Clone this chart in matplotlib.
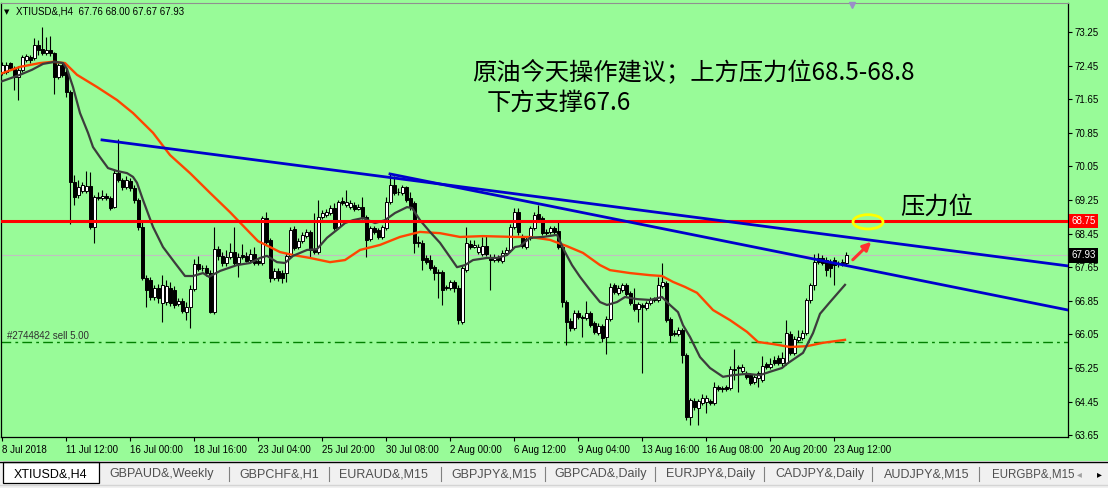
import matplotlib
matplotlib.use('Agg')
import matplotlib.pyplot as plt
from matplotlib.patches import Ellipse, Rectangle
import numpy as np

plt.rcParams['font.family'] = ['Liberation Sans', 'DejaVu Sans']
plt.rcParams['lines.scale_dashes'] = False

# ---- XTIUSD H4 candles ----
opens = [72.27, 72.30, 72.51, 72.39, 72.18, 72.35, 72.58, 72.65, 72.63, 72.94,
         72.85, 72.75, 72.82, 72.75, 72.18, 72.46, 72.30, 71.82, 69.68, 69.37,
         69.46, 69.46, 69.58, 68.61, 69.32, 69.30, 69.35, 69.30, 69.08, 69.89,
         69.73, 69.56, 69.70, 69.54, 69.25, 68.61, 67.39, 67.35, 66.94, 67.15,
         66.80, 66.82, 67.15, 67.11, 66.77, 66.85, 66.58, 66.70, 67.13, 67.73,
         67.63, 67.63, 67.51, 66.58, 68.08, 67.92, 67.75, 67.89, 68.01, 67.75,
         67.94, 67.92, 67.82, 67.96, 67.80, 67.75, 68.82, 68.30, 67.39, 67.56,
         67.51, 67.51, 67.92, 68.56, 68.13, 68.27, 68.39, 68.49, 68.06, 68.01,
         68.85, 68.89, 68.94, 69.06, 68.61, 69.23, 69.13, 69.08, 69.13, 69.04,
         69.08, 68.85, 68.32, 68.58, 68.54, 68.37, 68.58, 69.20, 69.61, 69.44,
         69.42, 69.56, 69.30, 69.18, 68.25, 68.23, 67.87, 67.82, 67.65, 67.54,
         67.54, 67.18, 67.16, 67.30, 67.16, 66.35, 67.58, 68.20, 68.13, 68.01,
         67.96, 68.15, 67.89, 67.82, 67.89, 67.80, 67.99, 68.06, 68.61, 68.96,
         68.39, 68.13, 68.35, 68.58, 68.92, 68.82, 68.49, 68.49, 68.58, 68.51,
         68.13, 66.82, 66.37, 66.20, 66.56, 66.46, 66.44, 66.56, 66.32, 66.08,
         66.25, 65.99, 66.42, 67.23, 67.04, 67.11, 67.23, 67.04, 66.77, 66.65,
         66.75, 66.68, 66.80, 66.89, 66.87, 67.20, 67.27, 66.42, 66.08, 66.06,
         66.16, 65.56, 64.08, 64.46, 64.30, 64.42, 64.44, 64.46, 64.42, 64.80,
         64.78, 64.80, 64.78, 65.23, 65.27, 65.18, 65.13, 65.08, 64.92, 65.01,
         64.96, 65.35, 65.27, 65.44, 65.49, 65.37, 65.37, 66.06, 65.61, 65.92,
         65.96, 66.08, 66.87, 67.23, 67.87, 67.87, 67.82, 67.77, 67.82, 67.73,
         67.76, 67.76]
highs = [72.54, 72.54, 72.54, 72.44, 72.44, 72.70, 72.73, 72.70, 73.11, 73.06,
         73.37, 73.13, 73.16, 72.77, 72.51, 72.54, 72.39, 71.87, 69.85, 69.73,
         69.68, 69.94, 69.92, 69.37, 69.44, 69.49, 69.42, 69.35, 69.96, 70.70,
         69.77, 69.82, 69.77, 69.61, 69.30, 68.73, 67.46, 67.42, 67.23, 67.25,
         67.46, 67.35, 67.30, 67.20, 66.92, 66.92, 66.82, 67.23, 67.85, 67.92,
         67.70, 67.70, 67.58, 68.61, 68.15, 68.01, 68.06, 68.23, 68.61, 67.99,
         68.20, 68.01, 68.08, 68.13, 67.87, 68.87, 68.96, 68.35, 67.63, 67.63,
         67.58, 67.99, 68.61, 68.63, 68.35, 68.49, 68.56, 68.54, 68.94, 69.25,
         69.01, 69.04, 69.13, 69.18, 69.25, 69.32, 69.49, 69.25, 69.20, 69.16,
         69.32, 68.89, 68.63, 68.63, 68.58, 68.65, 69.32, 69.89, 69.82, 69.54,
         69.61, 69.58, 69.44, 69.23, 68.39, 68.30, 67.94, 67.94, 67.70, 67.61,
         67.58, 67.23, 67.35, 67.35, 67.23, 67.70, 68.61, 68.30, 68.30, 68.20,
         68.37, 68.42, 67.96, 67.96, 67.94, 68.06, 68.13, 68.68, 69.06, 69.06,
         68.44, 68.39, 68.63, 68.96, 69.13, 68.87, 68.56, 68.63, 68.63, 68.73,
         68.18, 66.87, 66.44, 66.63, 66.63, 66.51, 66.85, 66.61, 66.37, 66.32,
         66.30, 66.49, 67.27, 67.27, 67.23, 67.27, 67.27, 67.08, 67.15, 66.82,
         66.80, 66.85, 66.94, 66.94, 67.42, 67.75, 67.32, 66.46, 66.16, 66.23,
         66.20, 65.61, 64.54, 64.54, 64.51, 64.63, 64.61, 64.51, 64.92, 64.85,
         64.82, 64.85, 65.30, 65.70, 65.32, 65.35, 65.18, 65.13, 65.08, 65.18,
         65.54, 65.39, 65.49, 65.54, 65.56, 65.63, 66.39, 66.13, 66.01, 66.16,
         66.16, 66.92, 67.27, 67.96, 67.99, 67.94, 67.89, 67.85, 67.89, 67.80,
         67.85, 68.00]
lows = [72.23, 72.25, 72.35, 71.87, 71.63, 72.30, 72.54, 72.51, 72.58, 72.70,
        72.70, 72.70, 72.68, 71.77, 72.13, 72.18, 71.70, 68.68, 69.13, 69.30,
        69.42, 69.42, 68.56, 68.23, 69.25, 69.25, 69.25, 69.01, 69.06, 69.68,
        69.49, 69.51, 69.46, 69.18, 68.54, 67.35, 66.70, 66.87, 66.87, 66.80,
        66.35, 66.75, 66.73, 66.68, 66.73, 66.56, 66.39, 66.20, 67.08, 67.56,
        67.56, 67.44, 66.56, 66.54, 67.82, 67.68, 67.68, 67.85, 67.70, 67.42,
        67.85, 67.77, 67.77, 67.70, 67.70, 67.70, 68.20, 67.30, 67.35, 67.32,
        67.27, 67.30, 67.87, 68.06, 68.08, 68.23, 68.35, 67.87, 67.96, 67.96,
        68.80, 68.85, 68.89, 68.54, 68.56, 69.13, 69.08, 69.04, 68.99, 69.01,
        68.80, 67.89, 68.27, 68.44, 68.32, 68.32, 68.54, 69.16, 69.37, 69.37,
        69.37, 69.20, 69.01, 67.99, 68.13, 67.58, 67.73, 67.58, 67.35, 66.92,
        66.75, 67.11, 67.11, 67.06, 66.30, 66.30, 67.54, 68.08, 68.11, 67.96,
        67.92, 67.92, 67.11, 67.77, 67.77, 67.75, 67.94, 68.01, 68.56, 68.42,
        68.11, 68.08, 68.30, 68.54, 68.75, 68.42, 68.42, 68.44, 68.44, 68.08,
        66.70, 65.80, 66.13, 66.15, 66.42, 65.99, 66.39, 66.23, 66.06, 66.04,
        65.87, 65.58, 66.37, 67.01, 66.99, 67.06, 66.96, 66.75, 66.61, 66.35,
        65.13, 66.63, 66.75, 66.82, 66.82, 67.15, 66.35, 65.87, 66.01, 66.01,
        65.37, 64.01, 63.89, 64.25, 63.89, 64.37, 64.18, 64.37, 64.37, 64.70,
        64.68, 64.70, 64.73, 64.96, 64.68, 65.13, 64.99, 64.85, 64.87, 64.80,
        64.92, 65.23, 65.23, 65.32, 65.32, 65.30, 65.32, 65.56, 65.56, 65.87,
        65.92, 66.04, 66.80, 67.11, 67.73, 67.70, 67.44, 67.42, 67.23, 67.65,
        67.68, 67.67]
closes = [72.46, 72.46, 72.39, 72.18, 72.35, 72.65, 72.68, 72.58, 72.94, 72.82,
          72.75, 72.82, 72.75, 72.18, 72.46, 72.23, 71.82, 69.68, 69.32, 69.56,
          69.61, 69.58, 68.61, 69.32, 69.30, 69.35, 69.30, 69.06, 69.89, 69.73,
          69.56, 69.73, 69.54, 69.25, 68.61, 67.39, 67.11, 66.94, 67.15, 66.92,
          67.23, 67.20, 66.80, 66.75, 66.85, 66.61, 66.70, 67.13, 67.73, 67.61,
          67.62, 67.51, 66.58, 68.08, 67.92, 67.75, 67.89, 68.01, 67.75, 67.89,
          67.89, 67.80, 67.96, 67.75, 67.75, 68.82, 68.25, 67.39, 67.56, 67.39,
          67.39, 67.92, 68.54, 68.11, 68.27, 68.42, 68.49, 68.06, 68.01, 68.85,
          68.94, 68.96, 69.06, 68.58, 69.20, 69.18, 69.20, 69.18, 69.04, 69.08,
          68.85, 68.30, 68.58, 68.49, 68.37, 68.61, 69.20, 69.61, 69.42, 69.43,
          69.56, 69.25, 69.08, 68.23, 68.22, 67.82, 67.77, 67.63, 67.51, 67.51,
          67.11, 67.16, 67.30, 67.16, 66.39, 67.63, 68.23, 68.13, 68.18, 68.13,
          68.15, 67.96, 67.82, 67.89, 67.82, 67.99, 68.06, 68.61, 68.96, 68.49,
          68.15, 68.32, 68.58, 68.89, 68.80, 68.46, 68.47, 68.58, 68.49, 68.13,
          66.82, 66.35, 66.20, 66.56, 66.46, 66.45, 66.56, 66.27, 66.11, 66.25,
          65.96, 66.42, 67.18, 67.06, 67.16, 67.23, 67.01, 66.80, 66.65, 66.77,
          66.70, 66.80, 66.89, 66.87, 67.23, 67.30, 66.39, 66.04, 66.07, 66.16,
          65.56, 64.08, 64.49, 64.32, 64.46, 64.54, 64.54, 64.42, 64.80, 64.75,
          64.75, 64.75, 65.23, 65.21, 65.24, 65.27, 65.04, 64.89, 65.04, 65.13,
          65.30, 65.27, 65.35, 65.37, 65.37, 65.49, 66.08, 65.61, 65.94, 65.99,
          66.08, 66.87, 67.23, 67.77, 67.77, 67.75, 67.58, 67.63, 67.70, 67.72,
          67.77, 67.93]

# moving averages, sampled along the drawn lines (bar index, price)
ma_fast_x = [-0.5, 4.5, 7.5, 10.25, 13.25, 15.25, 16.25, 17.75, 19.5, 21.5, 22.75, 24.5,
             26.5, 28.75, 31.25, 32.75, 33.75, 35.25, 37.75, 40.25, 43.25, 45.75, 47.75,
             50.25, 51.75, 54.5, 58.75, 62, 64.5, 66.25, 68.75, 70.75, 72.75, 76.25, 78.75,
             81.25, 83.75, 85.75, 87.75, 90.25, 93.25, 95.75, 98.25, 101.25, 102.5, 104.5,
             107, 109.5, 112, 113.75, 115.75, 117.75, 121.25, 123.75, 126.25, 128.25, 129.5,
             132, 135.25, 138.75, 140.75, 142.5, 144.5, 147, 149.5, 151.25, 153.75, 155.75,
             158.75, 162, 165, 167, 169, 170.25, 172, 174.5, 177, 180.25, 182.75, 186.25,
             189.5, 192, 195, 196.25, 200.25, 202.75, 204.5, 207, 210.75]
ma_fast_y = [72.06, 72.23, 72.35, 72.49, 72.54, 72.51, 72.37, 71.94, 71.32, 70.85, 70.51, 70.27,
             70.01, 69.94, 69.89, 69.80, 69.66, 69.25, 68.61, 68.13, 67.75, 67.44, 67.44,
             67.51, 67.42, 67.56, 67.70, 67.75, 67.87, 67.92, 67.77, 67.75, 67.92, 68.06, 68.08,
             68.35, 68.54, 68.70, 68.77, 68.82, 68.70, 68.77, 68.94, 69.08, 69.06, 68.77,
             68.49, 68.23, 67.89, 67.65, 67.70, 67.82, 67.87, 67.87, 67.94, 68.13, 68.15,
             68.35, 68.37, 68.42, 68.01, 67.70, 67.42, 67.11, 66.82, 66.75, 66.82, 66.94,
             66.89, 66.87, 66.94, 66.75, 66.58, 66.27, 65.99, 65.51, 65.25, 65.04, 65.08, 65.11,
             65.08, 65.16, 65.25, 65.35, 65.61, 66.08, 66.54, 66.82, 67.23]
ma_slow_x = [-0.5, 4.5, 9.5, 12.75, 15.75, 18.75, 23.75, 28.75, 32.75, 37.75, 42, 47, 52, 57,
             61.25, 64, 67, 69.5, 72.75, 77, 82, 85.75, 89.5, 94.5, 99.5, 104.5, 109.5, 114.5,
             120.25, 128.25, 132, 137, 141.25, 145.25, 149.5, 152, 157, 162, 165, 167.75,
             170.75, 173.75, 177.75, 182, 186.25, 189, 192.75, 197, 201.25, 205.25, 210.75]
ma_slow_y = [72.25, 72.42, 72.51, 72.54, 72.51, 72.23, 71.94, 71.63, 71.32, 70.85, 70.32, 69.89,
             69.42, 68.96, 68.54, 68.27, 68.13, 68.01, 67.94, 67.87, 67.77, 67.82, 68.06, 68.18,
             68.37, 68.49, 68.46, 68.37, 68.39, 68.37, 68.37, 68.30, 68.15, 67.99, 67.70, 67.58,
             67.51, 67.46, 67.44, 67.30, 67.18, 67.04, 66.63, 66.39, 66.11, 65.87, 65.82, 65.75,
             65.77, 65.85, 65.92]

# chart objects: trend lines (bar index, price), levels
trend_upper_x, trend_upper_y = [25, 266.5], [70.68, 67.68]
trend_lower_x, trend_lower_y = [97, 266.5], [69.87, 66.63]
resistance = 68.75
bid = 67.93
order_level = 65.88

ytick_vals = [73.25, 72.45, 71.65, 70.85, 70.05, 69.25, 68.45, 67.65, 66.85, 66.05, 65.25, 64.45, 63.65]
xtick_pos = [0, 16, 32, 48, 64, 80, 96, 112, 128, 144, 160, 176, 192, 208]
xtick_labels = ['8 Jul 2018', '11 Jul 12:00', '16 Jul 00:00', '18 Jul 16:00', '23 Jul 04:00',
                '25 Jul 20:00', '30 Jul 08:00', '2 Aug 00:00', '6 Aug 12:00', '9 Aug 04:00',
                '13 Aug 16:00', '16 Aug 08:00', '20 Aug 20:00', '23 Aug 12:00']
tabs = ['XTIUSD&,H4', 'GBPAUD&,Weekly', 'GBPCHF&,H1', 'EURAUD&,M15', 'GBPJPY&,M15',
        'GBPCAD&,Daily', 'EURJPY&,Daily', 'CADJPY&,Daily', 'AUDJPY&,M15', 'EURGBP&,M15']

GREEN = '#98FB98'
W, H = 1108, 488
fig = plt.figure(figsize=(W / 100, H / 100), dpi=100, facecolor=GREEN)
ax = fig.add_axes([1 / W, 51 / H, 1067 / W, 434 / H], facecolor=GREEN)

o = np.array(opens); c = np.array(closes)
hi = np.array(highs); lo = np.array(lows)
idx = np.arange(len(c))
up = c >= o

ax.axhline(bid, color='#C0C0C0', lw=0.8, zorder=1)
ax.axhline(order_level, color='#008000', lw=1.0, linestyle=(0, (7, 3, 2, 3)), zorder=1)
ax.vlines(idx, lo, hi, color='black', lw=0.8, zorder=3)
ax.bar(idx[up], np.maximum(c - o, 0.004)[up], bottom=o[up], width=0.75,
       color='white', edgecolor='black', linewidth=0.7, zorder=4)
ax.bar(idx[~up], (o - c)[~up], bottom=c[~up], width=0.75,
       color='black', edgecolor='black', linewidth=0.7, zorder=4)

ax.plot(ma_slow_x, ma_slow_y, color='#FF4500', lw=1.7, zorder=5)
ax.plot(ma_fast_x, ma_fast_y, color='#3C3C3C', lw=1.6, zorder=5)
ax.axhline(resistance, color='#FF0000', lw=2.2, zorder=6)
ax.plot(trend_upper_x, trend_upper_y, color='#0000CD', lw=2.0, zorder=6)
ax.plot(trend_lower_x, trend_lower_y, color='#0000CD', lw=2.0, zorder=6)

ax.add_patch(Ellipse((216.5, 68.73), width=7.5, height=0.34, fill=False,
                     edgecolor='#FFFF00', lw=2, zorder=7))
ax.annotate('', xy=(217.8, 68.30), xytext=(212.2, 67.78),
            arrowprops=dict(arrowstyle='-|>', color='#FF3030', lw=2.2, mutation_scale=12), zorder=7)
ax.plot([212.5], [73.90], marker='v', ms=4, color='#9A8FC8', clip_on=False, zorder=8)

ax.set_xlim(-0.25, 266.5)
ax.set_ylim(63.607, 73.94)

ax.yaxis.tick_right()
ax.set_yticks(ytick_vals)
ax.set_yticklabels([f'{v:.2f}' for v in ytick_vals])
ax.tick_params(axis='y', length=3, width=0.8, pad=2, labelsize=7, colors='black')
ax.set_xticks(xtick_pos)
ax.set_xticklabels(xtick_labels, ha='left')
ax.tick_params(axis='x', length=3, width=0.8, pad=3, labelsize=7, colors='black')
for s in ['left', 'bottom', 'right']:
    ax.spines[s].set_color('black')
    ax.spines[s].set_linewidth(0.9)
ax.spines['top'].set_color('#909090')

# price tags on the right scale
ax.text(1.003, resistance, '68.75', transform=ax.get_yaxis_transform(), fontsize=7,
        color='white', va='center', ha='left', zorder=10,
        bbox=dict(facecolor='#FF0000', edgecolor='none', pad=1.6))
ax.text(1.003, bid, '67.93', transform=ax.get_yaxis_transform(), fontsize=7,
        color='white', va='center', ha='left', zorder=10,
        bbox=dict(facecolor='black', edgecolor='none', pad=1.6))

# header and labels
fig.text(4 / W, 1 - 12 / H, '\u25bc', fontsize=5, va='center', family='DejaVu Sans')
fig.text(16 / W, 1 - 12 / H, 'XTIUSD&,H4  67.76 68.00 67.67 67.93', fontsize=7, va='center')
fig.text(7 / W, 1 - 336 / H, '#2744842 sell 5.00', fontsize=7, va='center', color='#303030')

cjk = ['Noto Sans CJK SC', 'DejaVu Sans']
fig.text(472 / W, 1 - 73 / H, '原油今天操作建议；上方压力位68.5-68.8', fontsize=17.5,
         va='center', family=cjk)
fig.text(487 / W, 1 - 103 / H, '下方支撑67.6', fontsize=17.5, va='center', family=cjk)
fig.text(900 / W, 1 - 207 / H, '压力位', fontsize=17.5, va='center', family=cjk)

# tab bar at the bottom
tab_ax = fig.add_axes([0, 0, 1, 27 / H])
tab_ax.set_xlim(0, W)
tab_ax.set_ylim(488, 461)
tab_ax.axis('off')
tab_ax.add_patch(Rectangle((0, 461), W, 27, facecolor='#F0F0F0', edgecolor='none'))
tab_ax.plot([0, W], [461.5, 461.5], color='black', lw=1)
tab_ax.plot([0, W], [484.5, 484.5], color='#D4D4D4', lw=1)
tab_ax.add_patch(Rectangle((3, 462), 96, 21, facecolor='white', edgecolor='black', lw=0.9))
tab_x = [14, 109, 239, 339, 451, 554, 666, 775, 884, 992]
tab_size = [9, 9, 9, 9, 9, 9, 9, 9, 9, 8.3]
seps = [229, 329, 441, 545, 655, 764, 872, 979]
for i, (t, x, fs) in enumerate(zip(tabs, tab_x, tab_size)):
    tab_ax.text(x, 474, t, fontsize=fs, va='center', ha='left',
                color='black' if i == 0 else '#505050')
for x in seps:
    tab_ax.plot([x, x], [467, 481], color='#808080', lw=0.8)
tab_ax.text(1077, 474, '\u25c2', fontsize=7, va='center', color='#A0A0A0', family='DejaVu Sans')
tab_ax.text(1097, 474, '\u25b8', fontsize=7, va='center', color='black', family='DejaVu Sans')

fig.savefig('out.png', dpi=100, facecolor=GREEN)
plt.close(fig)
